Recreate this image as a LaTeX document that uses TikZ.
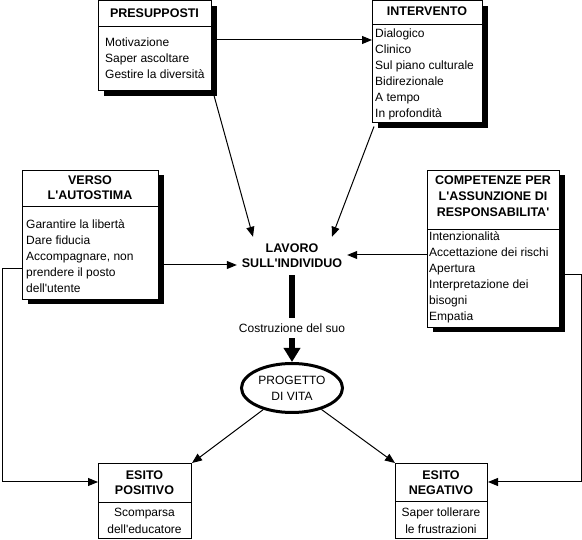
\documentclass[tikz,border=0pt]{standalone}
\usepackage{fontspec}
\setmainfont{Liberation Sans}[Ligatures=TeXOff]
\usetikzlibrary{shapes.geometric,shadows,arrows.meta}
\begin{document}
\begin{tikzpicture}[x=1pt,y=-1pt,
  box/.style={draw,fill=white,line width=1pt,inner sep=0,anchor=north west},
  shbox/.style={box,drop shadow={shadow xshift=5pt,shadow yshift=-5pt,opacity=1,fill=black}},
  hdr/.style={inner sep=0,anchor=base,font=\fontsize{12.5}{15}\selectfont\bfseries},
  itm/.style={inner sep=0,anchor=base west,font=\fontsize{12}{16}\selectfont},
  ctr/.style={inner sep=0,anchor=base,font=\fontsize{12}{16}\selectfont},
  conn/.style={line width=1pt,-{Triangle[length=10pt,width=8pt]}},
  thick line/.style={line width=6pt},
  thick arrow/.style={line width=6pt,-{Triangle[length=14pt,width=16pt]}}
]
\useasboundingbox (0,0) rectangle (582,540);

% boxes
\node[shbox,minimum width=113pt,minimum height=90pt] (pres) at (98,0.5) {};
\node[shbox,minimum width=110pt,minimum height=122pt] (int) at (372,0.5) {};
\node[shbox,minimum width=136pt,minimum height=129pt] (verso) at (22,170) {};
\node[shbox,minimum width=132pt,minimum height=157pt] (comp) at (427,170) {};
\node[box,minimum width=93pt,minimum height=75pt] (pos) at (98,463) {};
\node[box,minimum width=92pt,minimum height=75pt] (neg) at (395,463) {};

% dividers
\draw[line width=1pt] (pres.west |- 0,27) -- (pres.east |- 0,27);
\draw[line width=1pt] (int.west |- 0,25) -- (int.east |- 0,25);
\draw[line width=1pt] (verso.west |- 0,207) -- (verso.east |- 0,207);
\draw[line width=1pt] (comp.west |- 0,230) -- (comp.east |- 0,230);
\draw[line width=1pt] (pos.west |- 0,503) -- (pos.east |- 0,503);
\draw[line width=1pt] (neg.west |- 0,502) -- (neg.east |- 0,502);

% headers
\node[hdr] (presh) at (154.5,18) {PRESUPPOSTI};
\node[hdr] (inth) at (427,16) {INTERVENTO};
\node[hdr] (versoh1) at (90,185) {VERSO};
\node[hdr] (versoh2) at (90,200) {L'AUTOSTIMA};
\node[hdr] (comph1) at (493,185) {COMPETENZE PER};
\node[hdr] (comph2) at (493,201) {L'ASSUNZIONE DI};
\node[hdr] (comph3) at (493,217) {RESPONSABILITA'};
\node[hdr] (posh1) at (144.5,480) {ESITO};
\node[hdr] (posh2) at (144.5,495) {POSITIVO};
\node[hdr] (negh1) at (441,480) {ESITO};
\node[hdr] (negh2) at (441,495) {NEGATIVO};

% items
\foreach \t [count=\k] in {Motivazione,Saper ascoltare,Gestire la diversità}
  \node[itm] (pres-\k) at (105,31+16*\k) {\t};
\foreach \t [count=\k] in {Dialogico,Clinico,Sul piano culturale,Bidirezionale,A tempo,In profondità}
  \node[itm] (int-\k) at (375,22+16*\k) {\t};
\foreach \t [count=\k] in {Garantire la libertà,Dare fiducia,{Accompagnare, non},prendere il posto,dell'utente}
  \node[itm] (verso-\k) at (26,213+16*\k) {\t};
\foreach \t [count=\k] in {Intenzionalità,Accettazione dei rischi,Apertura,Interpretazione dei,bisogni,Empatia}
  \node[itm] (comp-\k) at (429,225+16*\k) {\t};
\node[ctr] (pos-1) at (144.5,517) {Scomparsa};
\node[ctr] (pos-2) at (144.5,533) {dell'educatore};
\node[ctr] (neg-1) at (441,517) {Saper tollerare};
\node[ctr] (neg-2) at (441,533) {le frustrazioni};

% central nodes
\node[inner sep=0,minimum width=110pt,minimum height=38pt,align=center,
      font=\fontsize{12.5}{15}\selectfont\bfseries] (lavoro) at (292,256) {LAVORO\\SULL'INDIVIDUO};
\node[inner sep=0,minimum height=20pt,font=\fontsize{12}{16}\selectfont] (cost) at (292,328) {Costruzione del suo};
\node[ellipse,draw,line width=3pt,minimum width=101pt,minimum height=49pt,inner sep=0,align=center,
      font=\fontsize{12}{16}\selectfont] (prog) at (292,388) {PROGETTO\\DI VITA};

% connectors
\draw[conn] (pres.east |- 0,40) -- (int.west |- 0,40);
\draw[conn] ([xshift=2pt,yshift=-4pt]pres.south east) -- ([xshift=-39pt]lavoro.north);
\draw[conn] ([xshift=2pt,yshift=-3pt]int.south west) -- ([xshift=40pt]lavoro.north);
\draw[conn] ([xshift=5pt]verso.east |- 0,265) -- (lavoro.west |- 0,265);
\draw[conn] (comp.west |- 0,255) -- (lavoro.east |- 0,255);
\draw[thick line] (lavoro.south) -- (cost.north);
\draw[thick arrow] (cost.south) -- (prog.north);
\draw[conn] (prog) -- (pos.north east);
\draw[conn] (prog) -- (neg.north west);
\draw[conn] (verso.west |- 0,269) -- ++(-20,0) |- (pos.west |- 0,482);
\draw[conn] ([xshift=5pt]comp.east |- 0,275) -- (581,275) |- (neg.east |- 0,482);
\end{tikzpicture}
\end{document}
